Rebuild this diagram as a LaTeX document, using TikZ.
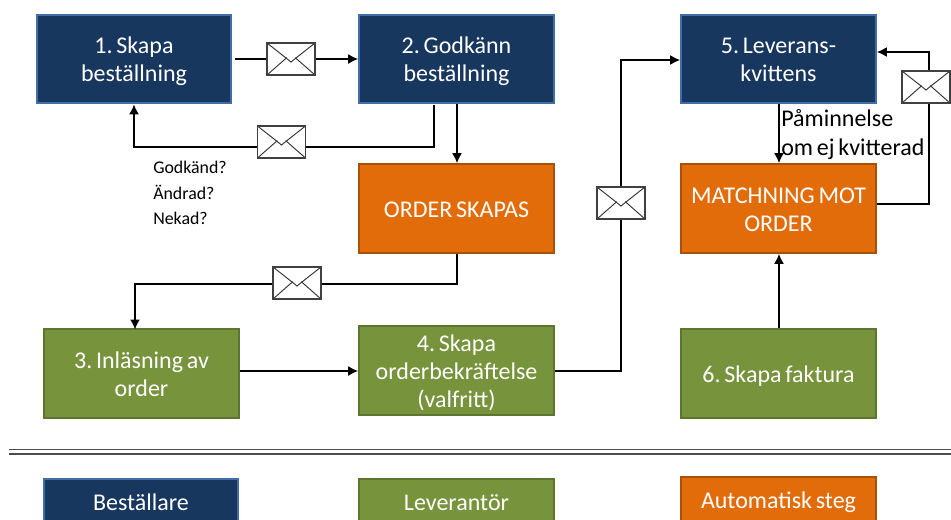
\documentclass[tikz,border=0pt]{standalone}
\usepackage{fontspec}
\setmainfont[WordSpace=0.7]{Carlito}
\frenchspacing
\usetikzlibrary{arrows.meta}
\definecolor{navy}{HTML}{17375E}
\definecolor{navyb}{HTML}{4F81BD}
\definecolor{org}{HTML}{E36C0A}
\definecolor{orgb}{HTML}{A9500B}
\definecolor{grn}{HTML}{77933C}
\definecolor{grnb}{HTML}{5E7530}
\newcommand\boxtext[2][-6.7pt]{\raisebox{#1}[0pt][0pt]{\begin{tabular}{@{}c@{}}#2\end{tabular}}}
\tikzset{
  x=0.75pt,y=-0.75pt,
  boxbase/.style={minimum width=146pt,minimum height=66.5pt,inner sep=1pt,line width=1.5pt,text=white,align=center,font=\fontsize{18}{21}\selectfont},
  bluebox/.style={boxbase,draw=navyb!75!navy,fill=navy},
  orangebox/.style={boxbase,draw=orgb,fill=org},
  greenbox/.style={boxbase,draw=grnb,fill=grn},
  envelope/.style={draw=black!75,line width=0.9pt,fill=white,minimum width=36pt,minimum height=24pt,inner sep=0pt,
    path picture={
      \draw[black!80,line width=0.7pt]
        (path picture bounding box.north west) -- ([xshift=-1.5pt,yshift=-1pt]path picture bounding box.center)
        -- ([yshift=-2.3pt]path picture bounding box.center)
        -- ([xshift=1.5pt,yshift=-1pt]path picture bounding box.center)
        -- (path picture bounding box.north east);
      \draw[black!80,line width=0.7pt]
        (path picture bounding box.south west) -- ([xshift=-3.2pt,yshift=1pt]path picture bounding box.center);
      \draw[black!80,line width=0.7pt]
        (path picture bounding box.south east) -- ([xshift=3.2pt,yshift=1pt]path picture bounding box.center);
    }},
  conn/.style={line width=1.25pt,black},
  arr/.style={conn,-{Latex[length=7.5pt,width=7.5pt]}},
  plain/.style={inner sep=0pt,align=left,text=black,font=\fontsize{13.4}{19.2}\selectfont},
  sep/.style={line width=0.9pt,black!70}
}
\begin{document}
\begin{tikzpicture}
\useasboundingbox (0,0) rectangle (951,519);
\clip (0,0) rectangle (951,519);
\fill[white] (0,0) rectangle (951,519);

\node[bluebox] (b1) at (134,59) {\boxtext{1. Skapa\\beställning}};
\node[bluebox] (b2) at (456.5,59) {\boxtext{2. Godkänn\\beställning}};
\node[bluebox] (b5) at (778.5,59) {\boxtext{5. Leverans-\\kvittens}};
\node[orangebox] (order) at (456.5,208.5) {\boxtext{ORDER SKAPAS}};
\node[orangebox] (match) at (778.5,208.5) {\boxtext{MATCHNING MOT\\ORDER}};
\node[greenbox] (b3) at (141.5,373.5) {\boxtext{3. Inläsning av\\order}};
\node[greenbox] (b4) at (456.5,370.5) {\boxtext{4. Skapa\\orderbekräftelse\\(valfritt)}};
\node[greenbox] (b6) at (778.5,373.5) {\boxtext{6. Skapa faktura}};
\node[bluebox] (l1) at (141,523) {\boxtext[9.5pt]{Beställare}};
\node[greenbox] (l2) at (456.5,523) {\boxtext[9.5pt]{Leverantör}};
\node[orangebox] (l3) at (778.5,521) {\boxtext[9.5pt]{Automatisk steg}};

\node[envelope] (e1) at (291,59) {};
\node[envelope] (e2) at (281.5,142) {};
\node[envelope] (e3) at (297,283) {};
\node[envelope] (e4) at (621,203) {};
\node[envelope] (e5) at (926,87) {};

\coordinate (p1) at (235,59);
\draw[conn] (p1) -- (e1.west);
\draw[arr] (e1.east) -- (b2.west);

\coordinate (p2s) at (434,105);
\coordinate (p2c) at (434,147);
\coordinate (p2e) at (134,147);
\draw[conn] (p2s) -- (p2c) -- (e2.east |- p2c);
\draw[arr] (e2.west |- p2e) -- (p2e) -- (b1.south);

\coordinate (p2x) at (457,130);
\draw[arr] (b2.south -| p2x) -- (order.north -| p2x);

\coordinate (p3a) at (457,284);
\coordinate (p3b) at (135,284);
\draw[conn] (order.south -| p3a) -- (p3a) -- (e3.east |- p3a);
\draw[arr] (e3.west |- p3a) -- (p3b) -- (135,329.5);

\coordinate (p4a) at (621,371);
\coordinate (p4b) at (621,60);
\draw[arr] (b3.east |- p4a) -- (b4.west |- p4a);
\draw[conn] (b4.east |- p4a) -- (p4a) -- (e4.south);
\draw[arr] (e4.north) -- (p4b) -- (b5.west |- p4b);

\coordinate (p5x) at (779,130);
\draw[arr] (b5.south -| p5x) -- (match.north -| p5x);

\coordinate (p6a) at (929,204);
\coordinate (p6b) at (929,52);
\draw[conn] (match.east |- p6a) -- (p6a) -- (p6a |- e5.south);
\draw[arr] (p6b |- e5.north) -- (p6b) -- (b5.east |- p6b);

\draw[arr] (b6.north -| p5x) -- (match.south -| p5x);

\node[plain,anchor=north west] (t1) at (153,161) {Godkänd?\\Ändrad?\\Nekad?};
\node[plain,anchor=north west,font=\fontsize{18}{21.6}\selectfont] (t2) at (781,109) {Påminnelse\\om ej kvitterad};

\coordinate (s1) at (9,449.5);
\coordinate (s2) at (951,449.5);
\coordinate (s3) at (9,454);
\coordinate (s4) at (951,454);
\draw[sep] (s1) -- (s2);
\draw[sep] (s3) -- (s4);
\end{tikzpicture}
\end{document}
